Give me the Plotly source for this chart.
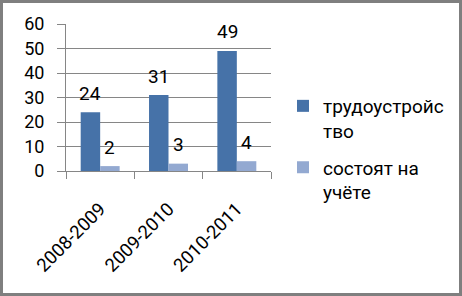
import plotly.graph_objects as go

categories = ["2008-2009", "2009-2010", "2010-2011"]
employed = [24, 31, 49]
registered = [2, 3, 4]
series_names = ["трудоустройс<br>тво", "состоят на<br>учёте"]
y_ticks = [0, 10, 20, 30, 40, 50, 60]

BLUE = "#4672A8"
LIGHT = "#93A9D1"
GRID = "#868686"
FONT = "Roboto"

fig = go.Figure()
fig.add_trace(go.Bar(x=categories, y=employed, name=series_names[0],
                     marker=dict(color=BLUE, line=dict(width=0)),
                     legendgroup="a"))
fig.add_trace(go.Bar(x=categories, y=registered, name=series_names[1],
                     marker=dict(color=LIGHT, line=dict(width=0)),
                     legendgroup="b"))

# data labels above bars
BAR_OFF = 9.8
for vals, shift in ((employed, -BAR_OFF), (registered, BAR_OFF)):
    for c, v in zip(categories, vals):
        fig.add_annotation(x=c, y=v, text=str(v), showarrow=False,
                           xshift=shift, yshift=19, yanchor="middle",
                           font=dict(family=FONT, size=19, color="#000"))

W, H = 462, 296
L, R, T, B = 66, 191, 24, 125
pw, ph = W - L - R, H - T - B

def px_x(p):
    return (p - L) / pw

def px_y(p):
    return (H - B - p) / ph

# outer border
fig.add_shape(type="rect", xref="paper", yref="paper",
              x0=px_x(1.5), x1=px_x(460.5), y0=px_y(294.5), y1=px_y(1.5),
              line=dict(color="#7f7f7f", width=3), fillcolor="rgba(0,0,0,0)")

fig.update_layout(
    width=W, height=H,
    margin=dict(l=L, r=R, t=T, b=B, pad=0),
    paper_bgcolor="white", plot_bgcolor="white",
    barmode="group", bargap=0.43, bargroupgap=0,
    showlegend=True,
    legend=dict(x=px_x(283), y=px_y(87), xanchor="left", yanchor="top",
                font=dict(family=FONT, size=19, color="#000"),
                valign="top", itemwidth=30, traceorder="grouped",
                tracegroupgap=9, bgcolor="rgba(0,0,0,0)"),
    font=dict(family=FONT, size=18, color="#000"),
    xaxis=dict(showline=True, linecolor=GRID, linewidth=1,
               ticks="outside", ticklen=7, tickcolor=GRID, tickson="boundaries",
               tickangle=-45, tickfont=dict(family=FONT, size=18.5),
               ticklabelstandoff=19, showgrid=False),
    yaxis=dict(range=[0, 60], tickvals=y_ticks, showline=True, linecolor=GRID,
               linewidth=1, ticks="outside", ticklen=8, tickcolor=GRID,
               gridcolor=GRID, gridwidth=1, zeroline=False,
               tickfont=dict(family=FONT, size=18), ticklabelstandoff=9),
)

fig.write_html("out.html")
